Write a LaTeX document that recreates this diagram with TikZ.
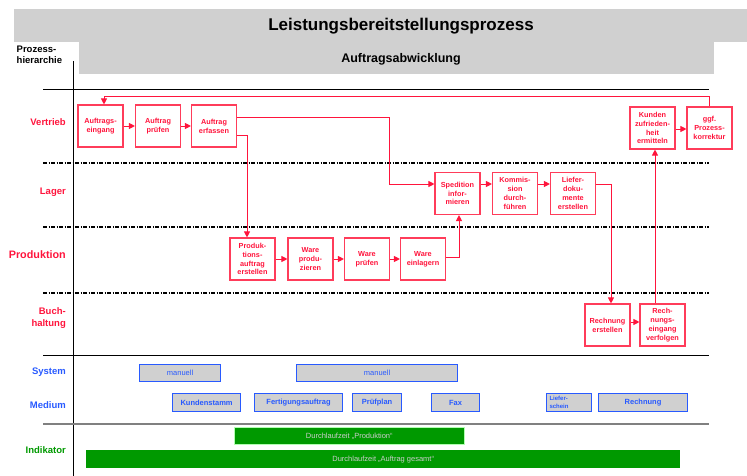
\documentclass[tikz,border=0pt]{standalone}
\usepackage{fontspec}
\setmainfont{Liberation Sans}
\usetikzlibrary{arrows.meta}
\definecolor{rd}{RGB}{255,20,60}
\definecolor{rdbox}{RGB}{255,60,90}
\definecolor{bl}{RGB}{40,90,255}
\definecolor{gr}{RGB}{0,153,0}
\definecolor{band}{RGB}{208,208,208}
\tikzset{
  rbox/.style={draw=rdbox, line width=1.1pt, minimum width=45pt, minimum height=42pt, inner sep=0pt,
     align=center, font=\bfseries\fontsize{7.3}{8.8}\selectfont, text=rd},
  flow/.style={draw=rd, line width=0.9pt, -{Triangle[length=6pt,width=6pt]}},
  lane/.style={line width=1.4pt, dash pattern=on 4pt off 1.5pt on 1pt off 1.5pt},
  rowlbl/.style={anchor=east, align=right, font=\bfseries\fontsize{9.5}{11.5}\selectfont, inner sep=0pt},
  sbox/.style={draw=bl, fill=band, line width=1.1pt, anchor=north west, inner sep=0pt, text=bl,
     font=\fontsize{7.5}{9}\selectfont},
  mbox/.style={sbox, font=\bfseries\fontsize{7.5}{9}\selectfont},
  gbar/.style={fill=gr, anchor=north west, inner sep=0pt, text=black!20, font=\fontsize{7.5}{9}\selectfont},
}
\begin{document}
\begin{tikzpicture}[x=1pt,y=-1pt]
\useasboundingbox (0,0) rectangle (747,476);
% header bands
\fill[band] (14,9) rectangle (747,42);
\fill[band] (79,42) rectangle (714,74);
\node[font=\bfseries\fontsize{17}{19}\selectfont] (title) at (401,26) {Leistungsbereitstellungsprozess};
\node[font=\bfseries\fontsize{12.5}{14}\selectfont] (sub) at (401,59) {Auftragsabwicklung};
\node[anchor=north west, align=left, inner sep=0pt, font=\bfseries\fontsize{9.5}{11.7}\selectfont] (ph) at (16.5,45.5) {Prozess-\\hierarchie};
% axes
\draw[line width=0.9pt] (73.3,61) -- (73.3,476);
\draw[line width=0.9pt] (43,89.3) -- (709,89.3);
\draw[lane] (43,163) -- (709,163);
\draw[lane] (43,227) -- (709,227);
\draw[lane] (43,293) -- (709,293);
\draw[line width=0.9pt] (43,355) -- (709,355);
\draw[line width=1.6pt, black!50] (43,424) -- (709,424);
% row labels
\node[rowlbl, text=rd] (lv) at (66,122) {Vertrieb};
\node[rowlbl, text=rd] (ll) at (66,192) {Lager};
\node[rowlbl, text=rd, font=\bfseries\fontsize{10.8}{13}\selectfont] (lp) at (66,255) {Produktion};
\node[rowlbl, text=rd] (lb) at (66,318) {Buch-\\haltung};
\node[rowlbl, text=bl] (ls) at (66,372) {System};
\node[rowlbl, text=bl] (lm) at (66,405) {Medium};
\node[rowlbl, text=gr] (li) at (66,450) {Indikator};
% process boxes
\node[rbox] (ae) at (100.5,126) {Auftrags-\\eingang};
\node[rbox] (ap) at (158,126) {Auftrag\\prüfen};
\node[rbox] (af) at (214,126) {Auftrag\\erfassen};
\node[rbox] (kz) at (652.5,128) {Kunden\\zufrieden-\\heit\\ermitteln};
\node[rbox] (gp) at (709.5,128) {ggf.\\Prozess-\\korrektur};
\node[rbox] (si) at (457.5,193.5) {Spedition\\infor-\\mieren};
\node[rbox] (kd) at (515,193.5) {Kommis-\\sion\\durch-\\führen};
\node[rbox] (ld) at (573,193.5) {Liefer-\\doku-\\mente\\erstellen};
\node[rbox] (pa) at (252.5,259) {Produk-\\tions-\\auftrag\\erstellen};
\node[rbox] (wp) at (310.5,259) {Ware\\produ-\\zieren};
\node[rbox] (wpr) at (367,259) {Ware\\prüfen};
\node[rbox] (we) at (423,259) {Ware\\einlagern};
\node[rbox] (re) at (607.5,325) {Rechnung\\erstellen};
\node[rbox] (rv) at (662.5,325) {Rech-\\nungs-\\eingang\\verfolgen};
% connectors
\coordinate (c1) at (389,117);
\coordinate (fb) at (0,96);
\draw[flow] (ae) -- (ap);
\draw[flow] (ap) -- (af);
\draw[flow] ([yshift=9]af.east) -- (c1) |- ([yshift=9.5]si.west);
\draw[flow] ([yshift=-9]af.east) -| ([xshift=-5.5]pa.north);
\draw[flow] (pa) -- (wp);
\draw[flow] (wp) -- (wpr);
\draw[flow] (wpr) -- (we);
\draw[flow] ([yshift=2]we.east) -| ([xshift=1.5]si.south);
\draw[flow] ([yshift=9.5]si.east) -- ([yshift=9.5]kd.west);
\draw[flow] ([yshift=9.5]kd.east) -- ([yshift=9.5]ld.west);
\draw[flow] ([yshift=9.5]ld.east) -| ([xshift=3.5]re.north);
\draw[flow] ([yshift=3]re.east) -- ([yshift=3]rv.west);
\draw[flow] ([xshift=-7.5]rv.north) -- ([xshift=2.5]kz.south);
\draw[flow] ([yshift=-1]kz.east) -- ([yshift=-1]gp.west);
\draw[flow] (gp.north) -- (gp.north |- fb) -| ([xshift=3.5]ae.north);
% system / medium
\node[sbox, minimum width=81pt, minimum height=17pt] (m1) at (139,364) {manuell};
\node[sbox, minimum width=161pt, minimum height=17pt] (m2) at (296,364) {manuell};
\node[mbox, minimum width=68pt, minimum height=18pt] (k1) at (172,393) {Kundenstamm};
\node[mbox, minimum width=88pt, minimum height=18pt] (k2) at (254,393) {Fertigungsauftrag};
\node[mbox, minimum width=49pt, minimum height=18pt] (k3) at (352,393) {Prüfplan};
\node[mbox, minimum width=48pt, minimum height=18pt] (k4) at (431,393) {Fax};
\node[mbox, minimum width=45pt, minimum height=18pt, align=left, text width=39pt, font=\bfseries\fontsize{6}{8}\selectfont] (k5) at (546,393) {Liefer-\\schein};
\node[mbox, minimum width=89pt, minimum height=18pt] (k6) at (598,393) {Rechnung};
% indicators
\node[gbar, draw=green!30, line width=0.6pt, minimum width=230pt, minimum height=17pt] (d1) at (234,427) {Durchlaufzeit „Produktion“};
\node[gbar, minimum width=594pt, minimum height=18pt] (d2) at (86,450) {Durchlaufzeit „Auftrag gesamt“};
\end{tikzpicture}
\end{document}
